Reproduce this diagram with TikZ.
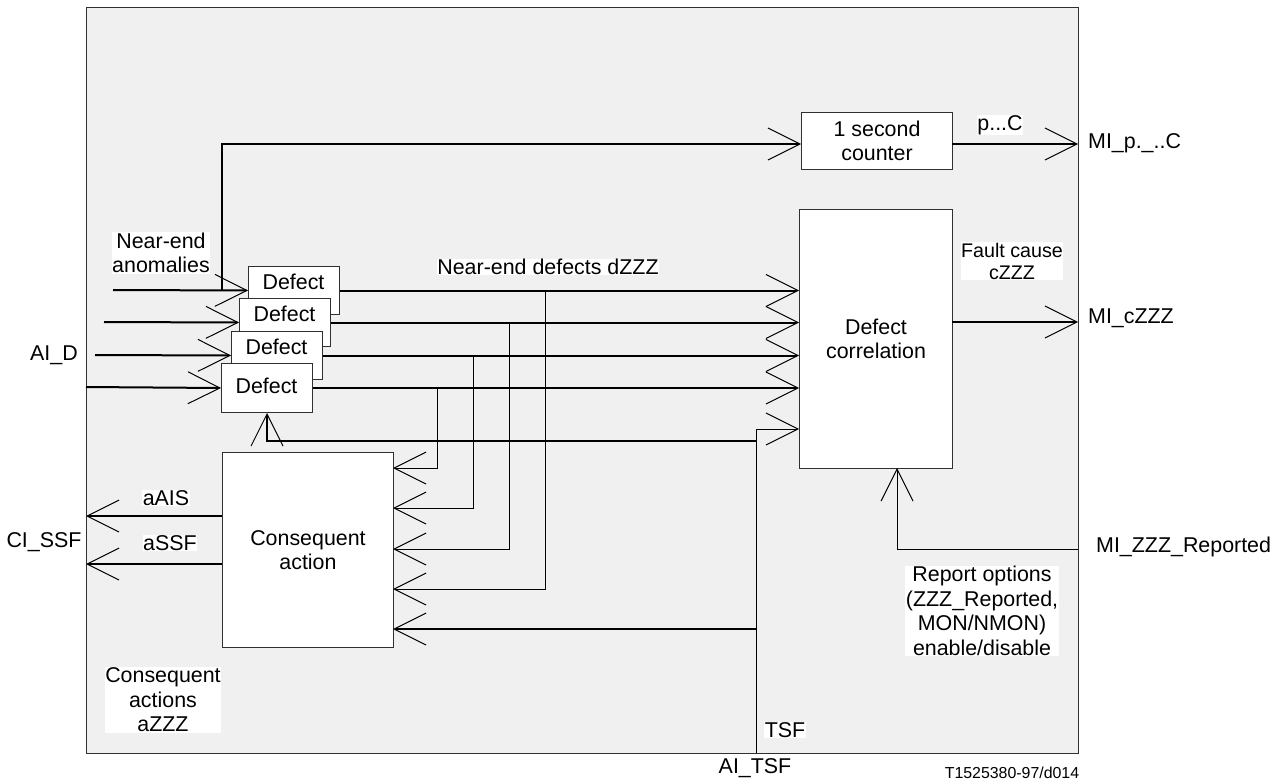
\documentclass[tikz,border=0pt]{standalone}
\usepackage{fontspec}
\setmainfont{Liberation Sans}
\usetikzlibrary{arrows.meta}
\definecolor{bg}{HTML}{F0F0F0}
\definecolor{edge}{HTML}{303030}
\begin{document}
\begin{tikzpicture}[x=1pt,y=-1pt,
  every node/.style={font=\fontsize{21.4}{24.5}\selectfont, inner sep=0pt, text=black},
  tip/.style={-{Straight Barb[length=32pt,width=32pt,line width=1pt]}},
  thk/.style={line width=2pt},
  thn/.style={line width=1pt},
  blk/.style={draw=edge, line width=1pt, fill=white, anchor=north west, align=center},
  wlab/.style={fill=white, inner sep=0.5pt, align=center},
  plain/.style={align=center}
]
\useasboundingbox (0,0) rectangle (1281,781);
% frame
\node[draw=edge, line width=1pt, fill=bg, anchor=north west, minimum width=992pt, minimum height=746pt] (frame) at (86,7) {};

% boxes
\node[blk, minimum width=151pt, minimum height=57pt] (cnt) at (801,112) {1 second\\counter};
\node[blk, minimum width=153pt, minimum height=259pt] (corr) at (799,209) {Defect\\correlation};
\node[blk, minimum width=171pt, minimum height=195pt] (cons) at (222,452) {Consequent\\action};

% coordinates
\coordinate (in1) at (113,290);
\coordinate (in2) at (104,322);
\coordinate (in3) at (95,355);
\coordinate (in4) at (86,387);
\coordinate (cntin) at (801,144);
\coordinate (cntout) at (952,144);
\coordinate (mip) at (1078,144);
\coordinate (mic) at (1078,322);
\coordinate (corrout) at (952,322);
\coordinate (ci1) at (393,468);
\coordinate (ci2) at (393,508);
\coordinate (ci3) at (393,549);
\coordinate (ci4) at (393,589);
\coordinate (ci5) at (393,629);
\coordinate (tsfb) at (756,753);
\coordinate (tsfj) at (756,629);
\coordinate (fbj) at (756,441);
\coordinate (corrtsf) at (799,429);
\coordinate (rep) at (1078,549);
\coordinate (corrrep) at (897,468);
\coordinate (ais) at (86,516);
\coordinate (ssf) at (86,564);
\coordinate (aisb) at (222,516);
\coordinate (ssfb) at (222,564);

% defect boxes (back to front)
\node[blk, minimum width=91pt, minimum height=48pt] (d1) at (248,266) {};
\node[blk, minimum width=91pt, minimum height=48pt] (d2) at (239,298) {};
\node[blk, minimum width=91pt, minimum height=48pt] (d3) at (231,331) {};
\node[blk, minimum width=91pt, minimum height=49pt] (d4) at (221,363) {};
\node[plain] (t1) at (293.5,282) {Defect};
\node[plain] (t2) at (284.5,314) {Defect};
\node[plain] (t3) at (276.5,347) {Defect};
\node[plain] (t4) at (266.5,386) {Defect};

% inputs to defects
\draw[thk,tip] (in1) -- (d1.west);
\draw[thk,tip] (in2) -- (d2.west);
\draw[thk,tip] (in3) -- (d3.west);
\draw[thk,tip] (in4) -- (d4.west);

% anomalies to counter
\draw[thk,tip] (222,290) |- (cntin);
\draw[thk,tip] (cntout) -- (mip);

% defect outputs to correlation
\draw[thk,tip] (d1.east) -- (d1.east -| corr.west);
\draw[thk,tip] (d2.east) -- (d2.east -| corr.west);
\draw[thk,tip] (d3.east) -- (d3.east -| corr.west);
\draw[thk,tip] (d4.east) -- (d4.east -| corr.west);

% taps to consequent action
\draw[thn,tip] (437,387) |- (ci1);
\draw[thn,tip] (473,355) |- (ci2);
\draw[thn,tip] (509,322) |- (ci3);
\draw[thn,tip] (545,290) |- (ci4);

% TSF
\draw[thn,tip] (tsfb) |- (corrtsf);
\draw[thk,tip] (tsfj) -- (ci5);
\draw[thk,tip] (fbj) -| (d4.south);

% correlation output and report
\draw[thk,tip] (corrout) -- (mic);
\draw[thn,tip] (rep) -| (corrrep);

% consequent outputs
\draw[thk,tip] (aisb) -- (ais);
\draw[thk,tip] (ssfb) -- (ssf);

% labels
\node[wlab] (lnea) at (161,253) {Near-end\\anomalies};
\node[wlab] (lned) at (548,267) {Near-end defects dZZZ};
\node[wlab] (lpc) at (1000,125) {p...C};
\node[wlab, font=\fontsize{19.7}{22}\selectfont] (lfc) at (1012,261) {Fault cause\\cZZZ};
\node[wlab] (lais) at (166,498) {aAIS};
\node[wlab] (lssf) at (170,543) {aSSF};
\node[wlab] (lca) at (163,700) {Consequent\\actions\\aZZZ};
\node[wlab] (ltsf) at (785,730) {TSF};
\node[wlab] (lrep) at (982,611) {Report options\\(ZZZ\_Reported,\\MON/NMON)\\enable/disable};

\node[plain, anchor=west] (lmip) at (1088,143) {MI\_p.\_..C};
\node[plain, anchor=west] (lmic) at (1088,318) {MI\_cZZZ};
\node[plain, anchor=west] (lmir) at (1096,547) {MI\_ZZZ\_Reported};
\node[plain] (laid) at (54,355) {AI\_D};
\node[plain] (lcis) at (44,542) {CI\_SSF};
\node[plain] (laits) at (755,768) {AI\_TSF};
\node[plain, font=\fontsize{15.9}{18}\selectfont] (lref) at (1012,773) {T1525380-97/d014};
\end{tikzpicture}
\end{document}
